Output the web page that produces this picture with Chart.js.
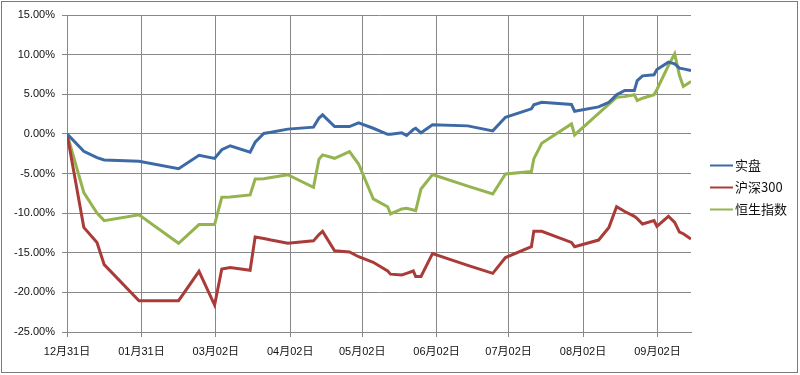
<!DOCTYPE html>
<html>
<head>
<meta charset="utf-8">
<script src="https://cdn.jsdelivr.net/npm/chart.js@4/dist/chart.umd.min.js"></script>
<style>
  html, body { margin: 0; padding: 0; background: #fff; }
  #wrap { width: 800px; height: 375px; position: relative; }
</style>
</head>
<body>
<div id="wrap"><canvas id="returnChart" width="800" height="375"></canvas></div>
<script>
// days after 12/31 for each record
const days = [0, 7, 12.5, 15.5, 30, 46.5, 55, 61.5, 64.5, 68, 76.3, 78.4, 82, 85, 92, 102.7, 105, 106.5,
  111.5, 117.7, 121.5, 127.6, 133.6, 134.8, 139.5, 141.5, 144.3, 145.3, 147.5, 152.3, 167, 177.4,
  182.7, 193.5, 194.5, 197.8, 210.2, 211.5, 221.5, 225.8, 229, 232.4, 236.4, 237.6, 239.8, 244.6,
  245.8, 250.6, 253.2, 255.2, 256.8, 260];

// returns in %
const shipan = [0, -2.2, -3.0, -3.3, -3.45, -4.4, -2.7, -3.1, -2.0, -1.5, -2.3, -1.05, 0.05, 0.2, 0.6, 0.85, 2.0, 2.4,
  0.92, 0.92, 1.39, 0.71, -0.05, -0.05, 0.13, -0.21, 0.55, 0.71, 0.13, 1.14, 1.01, 0.38,
  2.1, 3.16, 3.66, 3.99, 3.7, 2.86, 3.4, 3.99, 4.93, 5.47, 5.47, 6.73, 7.32, 7.45,
  8.12, 9.05, 8.84, 8.3, 8.2, 8.0];

const hs300 = [0, -11.8, -13.7, -16.5, -21.05, -21.05, -17.35, -21.6, -17.05, -16.85, -17.2, -13.0, -13.2, -13.4, -13.8, -13.5, -12.7, -12.3,
  -14.75, -14.9, -15.5, -16.2, -17.3, -17.7, -17.8, -17.6, -17.3, -18.0, -18.0, -15.1, -16.6, -17.6,
  -15.6, -14.24, -12.3, -12.3, -13.7, -14.24, -13.4, -11.8, -9.18, -9.8, -10.4, -10.7, -11.37, -10.95,
  -11.67, -10.4, -11.17, -12.4, -12.6, -13.26];

const hsi = [0, -7.4, -10.0, -10.95, -10.2, -13.8, -11.45, -11.45, -8.0, -7.95, -7.7, -5.7, -5.65, -5.5, -5.15, -6.75, -3.2, -2.65,
  -3.08, -2.24, -3.8, -8.2, -9.2, -10.1, -9.47, -9.4, -9.6, -9.68, -6.95, -5.14, -6.6, -7.58,
  -5.05, -4.76, -3.16, -1.19, 1.26, -0.13, 2.6, 3.75, 4.62, 4.7, 4.93, 4.2, 4.5, 4.93,
  5.6, 8.63, 10.1, 7.36, 5.97, 6.6];

const seriesNames = ["实盘", "沪深300", "恒生指数"];
const seriesColors = ["#3d6aa5", "#a93c39", "#95b450"];

// x axis ticks (month marks)
const tickDays = [0, 31, 62, 93, 123, 154, 184, 215, 246];
const tickLabels = ["12月31日", "01月31日", "03月02日", "04月02日", "05月02日", "06月02日", "07月02日", "08月02日", "09月02日"];

const gridColor = "#888888";
const tickFont = { family: "'Liberation Sans', 'Noto Sans CJK SC', sans-serif", size: 11 };

const toPoints = (vals) => days.map((d, i) => ({ x: d, y: vals[i] }));

// border around the whole picture
const frame = {
    id: "frame",
    afterDraw(chart) {
        const ctx = chart.ctx;
        ctx.save();
        ctx.strokeStyle = "#7a7a7a";
        ctx.lineWidth = 1;
        ctx.strokeRect(1.5, 1.5, 796, 371);
        ctx.restore();
    },
};

// legend on the right, drawn by hand to sit where the original has it
const sideLegend = {
    id: "sideLegend",
    afterDraw(chart) {
        const ctx = chart.ctx;
        const rows = [165, 187, 209];
        ctx.save();
        ctx.font = "13px 'Noto Sans CJK SC', sans-serif";
        ctx.textBaseline = "middle";
        chart.data.datasets.forEach((ds, i) => {
            const y = rows[i];
            ctx.strokeStyle = ds.borderColor;
            ctx.lineWidth = 2;
            ctx.beginPath();
            ctx.moveTo(710, y + 0.5);
            ctx.lineTo(733, y + 0.5);
            ctx.stroke();
            ctx.fillStyle = "#111";
            ctx.fillText(ds.label, 735, y);
        });
        ctx.restore();
    },
};

const ctx = document.getElementById("returnChart").getContext("2d");

new Chart(ctx, {
    type: "line",
    data: {
        datasets: [
            { label: seriesNames[0], data: toPoints(shipan), borderColor: seriesColors[0] },
            { label: seriesNames[1], data: toPoints(hs300), borderColor: seriesColors[1] },
            { label: seriesNames[2], data: toPoints(hsi), borderColor: seriesColors[2] },
        ].map((d) => ({ ...d, borderWidth: 3, pointRadius: 0, tension: 0, fill: false, backgroundColor: d.borderColor })),
    },
    options: {
        responsive: false,
        animation: false,
        layout: { padding: { top: 15, right: 109, bottom: 0, left: 0 } },
        plugins: {
            legend: { display: false },
            tooltip: { enabled: false },
        },
        scales: {
            x: {
                type: "linear",
                min: 0,
                max: 260,
                afterBuildTicks: (axis) => {
                    axis.ticks = tickDays.map((v) => ({ value: v }));
                },
                afterFit: (axis) => { axis.height = 43; },
                ticks: {
                    autoSkip: false,
                    maxRotation: 0,
                    padding: 8,
                    color: "#111",
                    font: tickFont,
                    callback: (v) => tickLabels[tickDays.indexOf(v)] ?? "",
                },
                grid: { color: gridColor, tickLength: 5, lineWidth: 1 },
                border: { color: gridColor, width: 1 },
            },
            y: {
                min: -25,
                max: 15,
                afterFit: (axis) => { axis.width = 67; },
                ticks: {
                    stepSize: 5,
                    padding: 7,
                    color: "#111",
                    font: tickFont,
                    callback: (v) => v.toFixed(2) + "%",
                },
                grid: { color: gridColor, tickLength: 5, lineWidth: 1 },
                border: { color: gridColor, width: 1 },
            },
        },
    },
    plugins: [frame, sideLegend],
});
</script>
</body>
</html>
